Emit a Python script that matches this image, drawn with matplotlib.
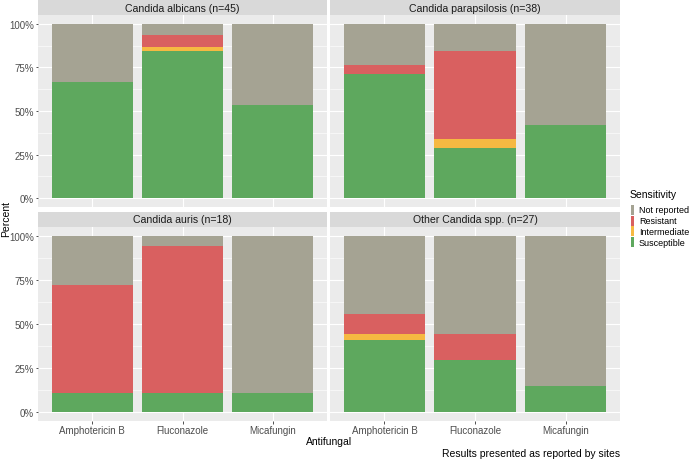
import matplotlib
matplotlib.use("Agg")
import matplotlib.pyplot as plt
from matplotlib.patches import Rectangle
import numpy as np

plt.rcParams['font.family'] = ['Liberation Sans', 'DejaVu Sans']

antifungals = ["Amphotericin B", "Fluconazole", "Micafungin"]
panels = ["Candida albicans (n=45)", "Candida parapsilosis (n=38)",
          "Candida auris (n=18)", "Other Candida spp. (n=27)"]
categories = ["Not reported", "Resistant", "Intermediate", "Susceptible"]
colors = {"Not reported": "#A5A393", "Resistant": "#D96060",
          "Intermediate": "#F6B942", "Susceptible": "#5EA85E"}

# counts per panel: [AmphB, Flu, Mica]
n_total = [45, 38, 18, 27]
susceptible = [[30, 38, 24], [27, 11, 16], [2, 2, 2], [11, 8, 4]]
intermediate = [[0, 1, 0], [0, 2, 0], [0, 0, 0], [1, 0, 0]]
resistant = [[0, 3, 0], [2, 19, 0], [11, 15, 0], [3, 4, 0]]

W, H = 689, 460
fig = plt.figure(figsize=(W / 100, H / 100), dpi=100)

def px_axes(x0, y0, x1, y1):
    return fig.add_axes([x0 / W, 1 - y1 / H, (x1 - x0) / W, (y1 - y0) / H])

xs = [(38, 327), (330, 620)]
ys = [((1, 16), (16, 208)), ((213, 228), (228, 422))]

for i, title in enumerate(panels):
    r, c = divmod(i, 2)
    (sy0, sy1), (py0, py1) = ys[r]
    x0, x1 = xs[c]
    # strip
    sax = px_axes(x0, sy0, x1, sy1)
    sax.set_facecolor("#D9D9D9")
    sax.set_xticks([]); sax.set_yticks([])
    for s in sax.spines.values():
        s.set_visible(False)
    sax.text(0.5, 0.5, title, ha="center", va="center", fontsize=7.6,
             color="#1A1A1A", transform=sax.transAxes)
    ax = px_axes(x0, py0, x1, py1)
    ax.set_facecolor("#EBEBEB")
    for s in ax.spines.values():
        s.set_visible(False)
    n = n_total[i]
    S = np.array(susceptible[i]) / n
    I = np.array(intermediate[i]) / n
    R = np.array(resistant[i]) / n
    NR = 1 - S - I - R
    x = np.arange(1, 4)
    bottom = np.zeros(3)
    for cat, vals in [("Susceptible", S), ("Intermediate", I),
                      ("Resistant", R), ("Not reported", NR)]:
        ax.bar(x, vals, width=0.9, bottom=bottom, color=colors[cat],
               linewidth=0, zorder=3)
        bottom = bottom + vals
    ax.set_xlim(0.4, 3.6)
    ax.set_ylim(-0.05, 1.05)
    ax.set_yticks([0, 0.25, 0.5, 0.75, 1.0])
    ax.set_yticks([0.125, 0.375, 0.625, 0.875], minor=True)
    ax.set_xticks(x)
    ax.grid(True, which="major", color="white", linewidth=0.8, zorder=0)
    ax.grid(True, which="minor", axis="y", color="white", linewidth=0.4, zorder=0)
    ax.tick_params(axis="both", which="major", length=1.8, width=0.6,
                   color="#333333", labelsize=7, labelcolor="#4D4D4D", pad=1.2)
    ax.tick_params(axis="both", which="minor", length=0)
    if c == 0:
        ax.set_yticklabels(["0%", "25%", "50%", "75%", "100%"])
    else:
        ax.tick_params(axis="y", which="major", length=0, labelleft=False)
    if r == 1:
        ax.set_xticklabels(antifungals)
    else:
        ax.tick_params(axis="x", which="major", length=0, labelbottom=False)

fig.text(6 / W, 1 - 219 / H, "Percent", rotation=90, ha="center", va="center",
         fontsize=7.5, color="black")
fig.text(329 / W, 1 - 442 / H, "Antifungal", ha="center", va="center",
         fontsize=7.5, color="black")
fig.text(620 / W, 1 - 454 / H, "Results presented as reported by sites",
         ha="right", va="center", fontsize=7.5, color="black")

# legend
lx = 630
fig.text(lx / W, 1 - 195 / H, "Sensitivity", ha="left", va="center",
         fontsize=7.5, color="black")
for k, cat in enumerate(categories):
    yc = 211 + k * 10.7
    fig.patches.append(Rectangle(((lx + 1) / W, 1 - (yc + 5) / H), 3 / W, 10 / H,
                                 transform=fig.transFigure, color=colors[cat],
                                 linewidth=0))
    fig.text((lx + 9) / W, 1 - yc / H, cat, ha="left", va="center",
             fontsize=6.5, color="black")

fig.savefig("out.png", dpi=100)
